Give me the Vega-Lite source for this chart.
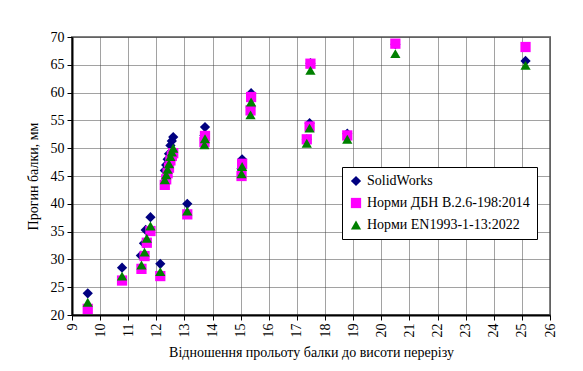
{
  "$schema": "https://vega.github.io/schema/vega-lite/v6.json",
  "autosize": {"type": "none"},
  "padding": {"left": 72, "top": 37, "right": 33, "bottom": 56},
  "width": 478,
  "height": 278,
  "background": "white",
  "config": {
    "font": "Liberation Serif",
    "view": {"stroke": "#808080", "strokeWidth": 2}
  },
  "datasets": {
    "pts": [
      {"x": 9.56, "s": "SolidWorks", "y": 23.9},
      {"x": 10.78, "s": "SolidWorks", "y": 28.5},
      {"x": 11.45, "s": "SolidWorks", "y": 30.7},
      {"x": 11.56, "s": "SolidWorks", "y": 32.9},
      {"x": 11.62, "s": "SolidWorks", "y": 35.3},
      {"x": 11.79, "s": "SolidWorks", "y": 37.6},
      {"x": 12.14, "s": "SolidWorks", "y": 29.2},
      {"x": 12.3, "s": "SolidWorks", "y": 46.0},
      {"x": 12.35, "s": "SolidWorks", "y": 47.0},
      {"x": 12.4, "s": "SolidWorks", "y": 48.0},
      {"x": 12.45, "s": "SolidWorks", "y": 49.0},
      {"x": 12.5, "s": "SolidWorks", "y": 50.5},
      {"x": 12.55, "s": "SolidWorks", "y": 51.3},
      {"x": 12.6, "s": "SolidWorks", "y": 52.0},
      {"x": 13.1, "s": "SolidWorks", "y": 40.0},
      {"x": 13.73, "s": "SolidWorks", "y": 53.8},
      {"x": 13.71, "s": "SolidWorks", "y": 52.3},
      {"x": 15.05, "s": "SolidWorks", "y": 48.0},
      {"x": 15.03, "s": "SolidWorks", "y": 46.3},
      {"x": 15.37, "s": "SolidWorks", "y": 59.9},
      {"x": 15.35, "s": "SolidWorks", "y": 57.4},
      {"x": 17.48, "s": "SolidWorks", "y": 65.3},
      {"x": 17.45, "s": "SolidWorks", "y": 54.5},
      {"x": 17.35, "s": "SolidWorks", "y": 51.6},
      {"x": 18.79, "s": "SolidWorks", "y": 52.6},
      {"x": 20.5, "s": "SolidWorks", "y": 68.7},
      {"x": 25.13, "s": "SolidWorks", "y": 65.7},
      {"x": 9.56, "s": "Норми ДБН В.2.6-198:2014", "y": 21.1},
      {"x": 10.78, "s": "Норми ДБН В.2.6-198:2014", "y": 26.2},
      {"x": 11.47, "s": "Норми ДБН В.2.6-198:2014", "y": 28.3},
      {"x": 11.58, "s": "Норми ДБН В.2.6-198:2014", "y": 30.6},
      {"x": 11.66, "s": "Норми ДБН В.2.6-198:2014", "y": 33.0},
      {"x": 11.79, "s": "Норми ДБН В.2.6-198:2014", "y": 35.1},
      {"x": 12.14, "s": "Норми ДБН В.2.6-198:2014", "y": 27.0},
      {"x": 12.3, "s": "Норми ДБН В.2.6-198:2014", "y": 43.4},
      {"x": 12.35, "s": "Норми ДБН В.2.6-198:2014", "y": 44.4},
      {"x": 12.4, "s": "Норми ДБН В.2.6-198:2014", "y": 45.5},
      {"x": 12.45, "s": "Норми ДБН В.2.6-198:2014", "y": 46.5},
      {"x": 12.5, "s": "Норми ДБН В.2.6-198:2014", "y": 47.8},
      {"x": 12.55, "s": "Норми ДБН В.2.6-198:2014", "y": 48.6},
      {"x": 12.6, "s": "Норми ДБН В.2.6-198:2014", "y": 49.1},
      {"x": 13.1, "s": "Норми ДБН В.2.6-198:2014", "y": 38.1},
      {"x": 13.73, "s": "Норми ДБН В.2.6-198:2014", "y": 52.2},
      {"x": 13.71, "s": "Норми ДБН В.2.6-198:2014", "y": 51.1},
      {"x": 15.05, "s": "Норми ДБН В.2.6-198:2014", "y": 47.2},
      {"x": 15.03, "s": "Норми ДБН В.2.6-198:2014", "y": 45.0},
      {"x": 15.37, "s": "Норми ДБН В.2.6-198:2014", "y": 59.2},
      {"x": 15.35, "s": "Норми ДБН В.2.6-198:2014", "y": 56.8},
      {"x": 17.48, "s": "Норми ДБН В.2.6-198:2014", "y": 65.2},
      {"x": 17.45, "s": "Норми ДБН В.2.6-198:2014", "y": 53.9},
      {"x": 17.35, "s": "Норми ДБН В.2.6-198:2014", "y": 51.6},
      {"x": 18.79, "s": "Норми ДБН В.2.6-198:2014", "y": 52.3},
      {"x": 20.5, "s": "Норми ДБН В.2.6-198:2014", "y": 68.8},
      {"x": 25.13, "s": "Норми ДБН В.2.6-198:2014", "y": 68.2},
      {"x": 9.56, "s": "Норми EN1993-1-13:2022", "y": 22.3},
      {"x": 10.78, "s": "Норми EN1993-1-13:2022", "y": 27.0},
      {"x": 11.47, "s": "Норми EN1993-1-13:2022", "y": 29.0},
      {"x": 11.58, "s": "Норми EN1993-1-13:2022", "y": 31.3},
      {"x": 11.66, "s": "Норми EN1993-1-13:2022", "y": 33.8},
      {"x": 11.79, "s": "Норми EN1993-1-13:2022", "y": 36.0},
      {"x": 12.14, "s": "Норми EN1993-1-13:2022", "y": 27.8},
      {"x": 12.3, "s": "Норми EN1993-1-13:2022", "y": 44.3},
      {"x": 12.35, "s": "Норми EN1993-1-13:2022", "y": 45.2},
      {"x": 12.4, "s": "Норми EN1993-1-13:2022", "y": 46.2},
      {"x": 12.45, "s": "Норми EN1993-1-13:2022", "y": 47.2},
      {"x": 12.5, "s": "Норми EN1993-1-13:2022", "y": 48.5},
      {"x": 12.55, "s": "Норми EN1993-1-13:2022", "y": 49.3},
      {"x": 12.6, "s": "Норми EN1993-1-13:2022", "y": 50.0},
      {"x": 13.1, "s": "Норми EN1993-1-13:2022", "y": 38.7},
      {"x": 13.73, "s": "Норми EN1993-1-13:2022", "y": 51.7},
      {"x": 13.71, "s": "Норми EN1993-1-13:2022", "y": 50.6},
      {"x": 15.05, "s": "Норми EN1993-1-13:2022", "y": 46.7},
      {"x": 15.03, "s": "Норми EN1993-1-13:2022", "y": 45.4},
      {"x": 15.37, "s": "Норми EN1993-1-13:2022", "y": 58.3},
      {"x": 15.35, "s": "Норми EN1993-1-13:2022", "y": 56.0},
      {"x": 17.48, "s": "Норми EN1993-1-13:2022", "y": 64.0},
      {"x": 17.45, "s": "Норми EN1993-1-13:2022", "y": 53.6},
      {"x": 17.35, "s": "Норми EN1993-1-13:2022", "y": 50.9},
      {"x": 18.79, "s": "Норми EN1993-1-13:2022", "y": 51.6},
      {"x": 20.5, "s": "Норми EN1993-1-13:2022", "y": 67.0},
      {"x": 25.13, "s": "Норми EN1993-1-13:2022", "y": 64.9}
    ]
  },
  "data": {"name": "pts"},
  "mark": {"type": "point", "filled": true, "opacity": 1, "size": 105},
  "encoding": {
    "x": {
      "field": "x", "type": "quantitative",
      "scale": {"domain": [9, 26], "nice": false, "zero": false},
      "axis": {
        "title": "Відношення прольоту балки до висоти перерізу",
        "titleFont": "Liberation Serif",
        "titleFontSize": 14, "titleFontWeight": "normal", "titleColor": "black", "titlePadding": 8,
        "values": [9,10,11,12,13,14,15,16,17,18,19,20,21,22,23,24,25,26],
        "labelFont": "Liberation Serif",
        "labelAngle": -90, "labelFontSize": 14, "labelColor": "black", "labelPadding": 3,
        "domainColor": "black", "domainWidth": 2, "tickColor": "black", "tickSize": 5,
        "gridColor": "#444444", "gridDash": [1, 1], "gridWidth": 1, "gridOpacity": 1
      }
    },
    "y": {
      "field": "y", "type": "quantitative",
      "scale": {"domain": [20, 70], "nice": false, "zero": false},
      "axis": {
        "title": "Прогин балки, мм",
        "titleFont": "Liberation Serif",
        "titleFontSize": 14, "titleFontWeight": "normal", "titleColor": "black", "titlePadding": 10,
        "values": [20,25,30,35,40,45,50,55,60,65,70],
        "labelFont": "Liberation Serif",
        "labelFontSize": 14, "labelColor": "black", "labelPadding": 3,
        "domainColor": "black", "domainWidth": 2, "tickColor": "black", "tickSize": 5,
        "gridColor": "#444444", "gridDash": [1, 1], "gridWidth": 1, "gridOpacity": 1
      }
    },
    "color": {
      "field": "s", "type": "nominal",
      "scale": {
        "domain": ["SolidWorks", "Норми ДБН В.2.6-198:2014", "Норми EN1993-1-13:2022"],
        "range": ["#000080", "#FF00FF", "#008000"]
      },
      "legend": {
        "title": null, "orient": "none", "legendX": 270, "legendY": 130,
        "labelFont": "Liberation Serif",
        "labelFontSize": 14, "labelColor": "black", "labelLimit": 300,
        "strokeColor": "black", "fillColor": "white", "padding": 7,
        "rowPadding": 8, "symbolSize": 105, "labelOffset": 4,
        "symbolStrokeWidth": 0
      }
    },
    "shape": {
      "field": "s", "type": "nominal",
      "scale": {
        "domain": ["SolidWorks", "Норми ДБН В.2.6-198:2014", "Норми EN1993-1-13:2022"],
        "range": ["diamond", "square", "triangle-up"]
      },
      "legend": null
    }
  }
}
